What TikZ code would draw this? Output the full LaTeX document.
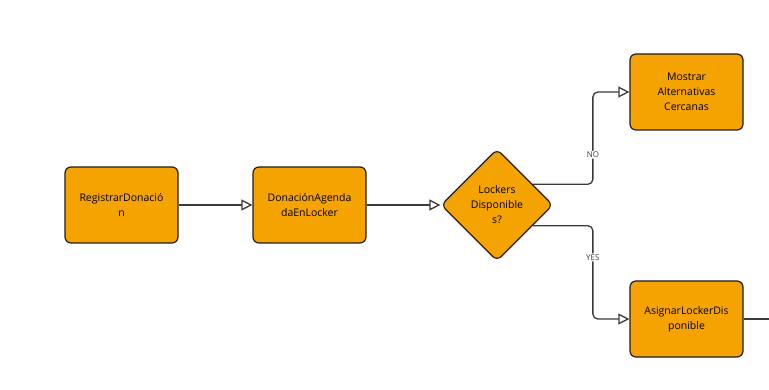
\documentclass[tikz,border=0pt]{standalone}
\usepackage{fontspec}
\setmainfont{Open Sans}
\usetikzlibrary{arrows.meta,shapes.geometric}
\definecolor{naranja}{HTML}{F4A300}
\definecolor{borde}{HTML}{1E1E1E}
\definecolor{linea}{HTML}{3A3A3A}
\begin{document}
\begin{tikzpicture}[x=1pt,y=-1pt,
    caja/.style={draw=borde,fill=naranja,line width=1.2pt,rounded corners=6pt,
        minimum width=113pt,minimum height=76pt,align=center,
        font=\fontsize{10.5}{15}\selectfont},
    rombo/.style={draw=borde,fill=naranja,line width=1.2pt,diamond,rounded corners=6pt,
        minimum width=112pt,minimum height=112pt,inner sep=0pt,align=center,
        font=\fontsize{10.5}{15}\selectfont},
    flecha/.style={draw=linea,line width=1.3pt,rounded corners=5pt,
        -{Triangle[open,length=11pt,width=11pt]}},
    etiqueta/.style={fill=white,inner sep=1pt,text=linea,font=\fontsize{8}{9}\selectfont}]
    \useasboundingbox (0,0) rectangle (769,390);
    \node[caja] (registrar) at (121.5,205) {RegistrarDonació\\n};
    \node[caja] (agendada) at (309.5,205) {DonaciónAgenda\\daEnLocker};
    \node[rombo] (lockers) at (497,205) {Lockers\\Disponible\\s?};
    \node[caja] (mostrar) at (686.5,92) {Mostrar\\Alternativas\\Cercanas};
    \node[caja] (asignar) at (686.5,319) {AsignarLockerDis\\ponible};
    \coordinate (salida) at (769,319);
    % flujo principal
    \draw[flecha] (registrar) -- (agendada);
    \draw[flecha] (agendada) -- (lockers);
    % ramas de la decision
    \draw[flecha] (lockers.30) -- ++(60,0) |- (mostrar.west)
        node[etiqueta,pos=0.16] {NO};
    \draw[flecha] (lockers.-30) -- ++(60,0) |- (asignar.west)
        node[etiqueta,pos=0.17] {YES};
    \draw[draw=linea,line width=1.3pt] (asignar) -- (salida);
\end{tikzpicture}
\end{document}
